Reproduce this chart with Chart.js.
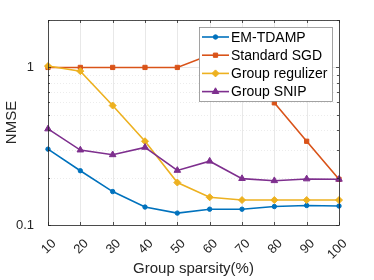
<!DOCTYPE html>
<html>
<head>
<meta charset="utf-8">
<script src="https://cdn.jsdelivr.net/npm/chart.js@4.4.1/dist/chart.umd.min.js"></script>
<style>
    html, body { margin: 0; padding: 0; background: #fff; }
    #wrap { width: 374px; height: 280px; }
</style>
</head>
<body>
<div id="wrap"><canvas id="nmseChart" width="374" height="280"></canvas></div>
<script>
// Group sparsity (%) on the x axis
const sparsity = ['10', '20', '30', '40', '50', '60', '70', '80', '90', '100'];

// NMSE per method
const emTdamp = [0.303, 0.221, 0.163, 0.130, 0.119, 0.126, 0.126, 0.131, 0.133, 0.132];
const standardSgd = [1.0, 1.0, 1.0, 1.0, 1.0, 1.2, 1.2, 0.596, 0.34, 0.195];
const groupRegulizer = [1.02, 0.947, 0.573, 0.34, 0.186, 0.150, 0.144, 0.144, 0.144, 0.144];
const groupSnip = [0.407, 0.299, 0.279, 0.311, 0.222, 0.254, 0.197, 0.191, 0.196, 0.195];

// y axis labels and grid values
const yLabelTicks = [0.1, 1];
const yMinorGrid = [0.2, 0.3, 0.4, 0.5, 0.6, 0.7, 0.8, 0.9, 2];

const FONT = "'Liberation Sans', Arial, sans-serif";
const AXIS_COLOR = '#262626';

function series(label, data, color, style, radius, order) {
    return {
        label: label,
        data: data,
        borderColor: color,
        backgroundColor: color,
        borderWidth: 1.6,
        pointStyle: style,
        pointRadius: radius,
        pointBorderWidth: 1,
        pointHoverRadius: radius,
        tension: 0,
        order: order
    };
}

// grid, box and inward ticks like the original figure
const gridPlugin = {
    id: 'matlabGrid',
    beforeDatasetsDraw(chart) {
        const { ctx, chartArea: a, scales } = chart;
        ctx.save();
        ctx.lineWidth = 0.7;
        ctx.strokeStyle = '#dedede';
        sparsity.forEach((s, i) => {
            const px = Math.round(scales.x.getPixelForValue(i)) + 0.5;
            ctx.beginPath();
            ctx.moveTo(px, a.top);
            ctx.lineTo(px, a.bottom);
            ctx.stroke();
        });
        yLabelTicks.forEach(v => {
            const py = Math.round(scales.y.getPixelForValue(v)) + 0.5;
            ctx.beginPath();
            ctx.moveTo(a.left, py);
            ctx.lineTo(a.right, py);
            ctx.stroke();
        });
        ctx.strokeStyle = '#e4e4e4';
        ctx.setLineDash([1, 2]);
        yMinorGrid.forEach(v => {
            const py = Math.round(scales.y.getPixelForValue(v)) + 0.5;
            ctx.beginPath();
            ctx.moveTo(a.left, py);
            ctx.lineTo(a.right, py);
            ctx.stroke();
        });
        ctx.restore();
    },
    afterDatasetsDraw(chart) {
        const { ctx, chartArea: a, scales } = chart;
        ctx.save();
        ctx.strokeStyle = AXIS_COLOR;
        ctx.lineWidth = 0.8;
        // tick marks
        ctx.beginPath();
        sparsity.forEach((s, i) => {
            const px = Math.round(scales.x.getPixelForValue(i)) + 0.5;
            ctx.moveTo(px, a.bottom); ctx.lineTo(px, a.bottom - 3);
            ctx.moveTo(px, a.top); ctx.lineTo(px, a.top + 3);
        });
        yLabelTicks.concat(yMinorGrid).forEach(v => {
            const len = yLabelTicks.includes(v) ? 3 : 2;
            const py = Math.round(scales.y.getPixelForValue(v)) + 0.5;
            ctx.moveTo(a.left, py); ctx.lineTo(a.left + len, py);
            ctx.moveTo(a.right, py); ctx.lineTo(a.right - len, py);
        });
        ctx.stroke();
        ctx.strokeRect(Math.round(a.left) + 0.5, Math.round(a.top) + 0.5,
            Math.round(a.right - a.left), Math.round(a.bottom - a.top));
        ctx.restore();
    }
};

// legend box inside the plot, top right
const legendPlugin = {
    id: 'insideLegend',
    afterDraw(chart) {
        const { ctx, chartArea: a } = chart;
        const boxX = a.right - 140, boxY = a.top + 7, boxW = 133, boxH = 74;
        ctx.save();
        ctx.fillStyle = '#fff';
        ctx.fillRect(boxX, boxY, boxW, boxH);
        ctx.strokeStyle = '#8c8c8c';
        ctx.lineWidth = 0.8;
        ctx.strokeRect(boxX + 0.5, boxY + 0.5, boxW, boxH);
        ctx.font = '14px ' + FONT;
        ctx.textBaseline = 'middle';
        ctx.textAlign = 'left';
        chart.data.datasets.forEach((ds, i) => {
            const y = boxY + 10 + i * 18.2;
            ctx.strokeStyle = ds.borderColor;
            ctx.fillStyle = ds.borderColor;
            ctx.lineWidth = 1.6;
            ctx.beginPath();
            ctx.moveTo(boxX + 3, y);
            ctx.lineTo(boxX + 30, y);
            ctx.stroke();
            ctx.lineWidth = 1;
            Chart.helpers.drawPoint(ctx, {
                pointStyle: ds.pointStyle, radius: ds.pointRadius, rotation: 0, borderWidth: 1
            }, boxX + 16.5, y);
            ctx.fillStyle = '#000';
            ctx.fillText(ds.label, boxX + 32, y + 1);
        });
        ctx.restore();
    }
};

new Chart(document.getElementById('nmseChart'), {
    type: 'line',
    data: {
        labels: sparsity,
        datasets: [
            series('EM-TDAMP', emTdamp, '#0072BD', 'circle', 2.2, 4),
            series('Standard SGD', standardSgd, '#D95319', 'rect', 3, 3),
            series('Group regulizer', groupRegulizer, '#EDB120', 'rectRot', 3.5, 2),
            series('Group SNIP', groupSnip, '#7E2F8E', 'triangle', 3.8, 1)
        ]
    },
    options: {
        responsive: false,
        animation: false,
        layout: { padding: { top: 20, right: 35, left: 0, bottom: 0 } },
        plugins: {
            legend: { display: false },
            tooltip: { enabled: false }
        },
        scales: {
            x: {
                type: 'category',
                offset: false,
                grid: { display: false },
                border: { display: false },
                ticks: {
                    color: AXIS_COLOR,
                    font: { family: FONT, size: 13 },
                    minRotation: 45,
                    maxRotation: 45,
                    padding: 3,
                    labelOffset: 6,
                    autoSkip: false
                },
                title: {
                    display: true,
                    text: 'Group sparsity(%)',
                    color: AXIS_COLOR,
                    font: { family: FONT, size: 15 },
                    padding: { top: 0, bottom: 2 }
                },
                afterFit: scale => { scale.height = 55; }
            },
            y: {
                type: 'logarithmic',
                min: 0.1,
                max: 2,
                grid: { display: false },
                border: { display: false },
                ticks: {
                    color: AXIS_COLOR,
                    font: { family: FONT, size: 13 },
                    padding: 6,
                    autoSkip: false,
                    callback: v => yLabelTicks.includes(v) ? String(v) : ''
                },
                title: {
                    display: true,
                    text: 'NMSE',
                    color: AXIS_COLOR,
                    font: { family: FONT, size: 15 },
                    padding: { top: 3, bottom: 0 }
                },
                afterFit: scale => { scale.width = 48; }
            }
        }
    },
    plugins: [gridPlugin, legendPlugin]
});
</script>
</body>
</html>
